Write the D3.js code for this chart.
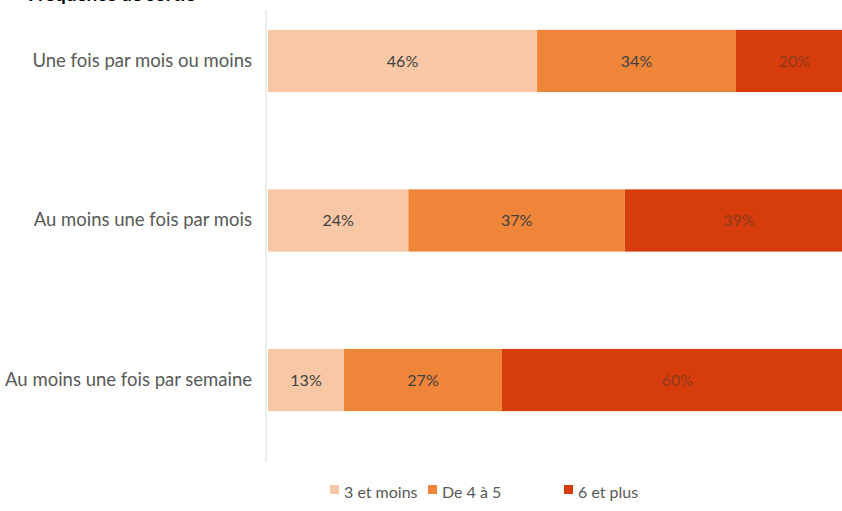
<!DOCTYPE html>
<html>
<head>
<meta charset="utf-8">
<script src="https://cdn.jsdelivr.net/npm/d3@7"></script>
<style>
  html, body { margin: 0; padding: 0; background: #ffffff; overflow: hidden; }
  svg { display: block; }
  text { font-family: Lato, "Open Sans", sans-serif; }
</style>
</head>
<body>
<svg id="chart" width="842" height="511"></svg>
<script>
// Frequency categories (top to bottom)
const categories = [
  "Une fois par mois ou moins",
  "Au moins une fois par mois",
  "Au moins une fois par semaine"
];
// Series: share of respondents per group size (%)
const seriesNames = ["3 et moins", "De 4 à 5", "6 et plus"];
const low  = [46, 24, 13];
const mid  = [34, 37, 27];
const high = [20, 39, 60];
const seriesColors = ["#F8C8A6", "#EE8539", "#D63C0C"];
const title = "Fréquence de sortie";

const svg = d3.select("#chart");

const rows = categories.map((c, i) => ({ cat: c, values: [low[i], mid[i], high[i]] }));

const x = d3.scaleLinear().domain([0, 100]).range([268, 853]);
const y = d3.scaleBand().domain(categories).range([-18, 459]).paddingInner(0.61).paddingOuter(0.3);

// Title (runs off the top edge)
svg.append("text")
  .attr("x", 28).attr("y", 1)
  .attr("font-size", 19).attr("font-weight", "bold").attr("fill", "#000")
  .text(title);

// Stacked bars
const stack = d3.stack().keys([0, 1, 2]).value((d, k) => d.values[k]);
const layers = stack(rows);

layers.forEach((layer, k) => {
  const g = svg.append("g");
  g.selectAll("rect").data(layer).join("rect")
    .attr("x", d => x(d[0]))
    .attr("y", d => y(d.data.cat))
    .attr("width", d => x(d[1]) - x(d[0]))
    .attr("height", y.bandwidth())
    .attr("fill", seriesColors[k]);
  g.selectAll("text").data(layer).join("text")
    .attr("x", d => (x(d[0]) + x(d[1])) / 2)
    .attr("y", d => y(d.data.cat) + y.bandwidth() / 2)
    .attr("dy", "0.35em")
    .attr("text-anchor", "middle")
    .attr("font-size", 16)
    .attr("fill", k === 2 ? "#7a3a22" : "#404040")
    .attr("fill-opacity", k === 2 ? 0.8 : 1)
    .text(d => (d[1] - d[0]) + "%");
});

// Category axis
const axis = svg.append("g").attr("transform", `translate(${x(0) - 2},0)`)
  .call(d3.axisLeft(y).tickSize(0).tickPadding(14));
axis.select(".domain").remove();
axis.selectAll("text").attr("font-size", 18.5).attr("fill", "#595959")
  .style("font-family", "Lato, 'Open Sans', sans-serif");
svg.append("line")
  .attr("x1", x(0) - 2).attr("x2", x(0) - 2)
  .attr("y1", 10).attr("y2", 462)
  .attr("stroke", "#d9d9d9").attr("stroke-width", 1);

// Legend
const legendX = [330, 428, 564];
const legend = svg.append("g");
seriesNames.forEach((name, k) => {
  legend.append("rect")
    .attr("x", legendX[k]).attr("y", 485)
    .attr("width", 9).attr("height", 9)
    .attr("fill", seriesColors[k]);
  legend.append("text")
    .attr("x", legendX[k] + 14).attr("y", 492)
    .attr("dy", "0.35em")
    .attr("font-size", 16).attr("fill", "#595959")
    .text(name);
});
</script>
</body>
</html>
